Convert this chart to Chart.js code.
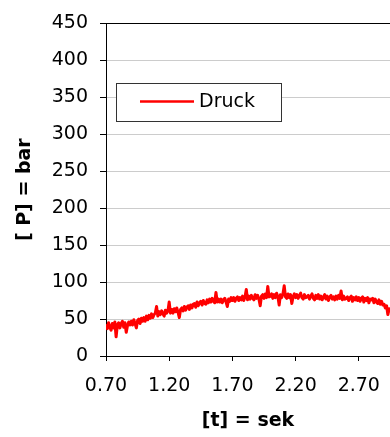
<!DOCTYPE html>
<html lang="de">
<head>
    <meta charset="UTF-8">
    <title>Druck</title>
    <script src="https://cdn.jsdelivr.net/npm/chart.js"></script>
    <style>
        body { margin: 0; background: #fff; }
        canvas { display: block; }
    </style>
</head>
<body>
    <canvas id="druckChart" width="390" height="437"></canvas>

    <script>
        // Messreihe: Druck in bar, alle 10 ms ab t = 0.70 s
        const tStart = 0.70;
        const tStep = 0.01;
        const druck = [
            43, 37, 45, 39, 35, 44, 38, 46, 26, 42,
            45, 38, 44, 47, 39, 45, 32, 41, 46, 42,
            47, 42, 49, 44, 38, 48, 50, 44, 51, 47,
            52, 47, 54, 49, 55, 51, 57, 52, 56, 58,
            67, 54, 60, 56, 61, 57, 54, 62, 58, 61,
            73, 58, 63, 58, 64, 60, 65, 59, 52, 63,
            65, 61, 67, 62, 66, 68, 63, 69, 65, 70,
            71, 66, 73, 68, 72, 74, 69, 75, 71, 70,
            76, 72, 77, 73, 78, 74, 72, 86, 73, 77,
            73, 77, 72, 76, 78, 73, 67, 77, 74, 79,
            75, 79, 74, 78, 80, 75, 79, 76, 81, 75,
            80, 90, 76, 81, 77, 82, 78, 76, 83, 78,
            82, 77, 68, 81, 83, 78, 84, 79, 94, 80,
            81, 84, 78, 83, 79, 85, 80, 69, 83, 79,
            84, 95, 80, 78, 84, 79, 83, 71, 80, 84,
            79, 83, 78, 82, 85, 79, 77, 83, 79, 80,
            82, 77, 81, 84, 78, 76, 82, 78, 83, 77,
            81, 76, 80, 83, 77, 81, 75, 80, 82, 77,
            80, 76, 81, 77, 82, 78, 88, 76, 81, 77,
            78, 80, 75, 79, 81, 74, 79, 76, 80, 75,
            79, 74, 78, 80, 73, 78, 75, 79, 72, 77,
            76, 78, 72, 77, 73, 71, 76, 70, 74, 69,
            70, 65, 68, 56, 64, 59
        ];
        const xTicks = [0.70, 1.20, 1.70, 2.20, 2.70];
        const xMin = 0.70;
        const xMax = 2.947;
        const yMin = 0;
        const yMax = 450;

        const points = druck.map((p, i) => ({ x: tStart + i * tStep, y: p }));

        Chart.defaults.font.family = '"DejaVu Sans", sans-serif';
        Chart.defaults.color = '#000';

        // Legende als Kasten im Diagramm
        const boxLegend = {
            id: 'boxLegend',
            afterDatasetsDraw(chart) {
                const ctx = chart.ctx;
                const ds = chart.data.datasets[0];
                ctx.save();
                ctx.fillStyle = '#fff';
                ctx.fillRect(116, 83, 165, 38);
                ctx.strokeStyle = '#333';
                ctx.lineWidth = 1;
                ctx.strokeRect(116.5, 83.5, 165, 38);
                ctx.strokeStyle = ds.borderColor;
                ctx.lineWidth = 2.5;
                ctx.beginPath();
                ctx.moveTo(140, 101.5);
                ctx.lineTo(194, 101.5);
                ctx.stroke();
                ctx.fillStyle = '#000';
                ctx.font = '19px "DejaVu Sans"';
                ctx.textBaseline = 'middle';
                ctx.fillText(ds.label, 199, 102);
                ctx.restore();
            }
        };

        new Chart(document.getElementById('druckChart'), {
            type: 'line',
            data: {
                datasets: [{
                    label: 'Druck',
                    data: points,
                    borderColor: '#ff0000',
                    borderWidth: 3,
                    borderJoinStyle: 'round',
                    pointRadius: 0,
                    tension: 0,
                    fill: false
                }]
            },
            options: {
                responsive: false,
                animation: false,
                devicePixelRatio: 1,
                layout: { padding: { top: 20, right: 0, bottom: 0, left: 0 } },
                plugins: {
                    legend: { display: false },
                    tooltip: { enabled: false }
                },
                scales: {
                    x: {
                        type: 'linear',
                        min: xMin,
                        max: xMax,
                        afterBuildTicks: scale => {
                            scale.ticks = xTicks.map(v => ({ value: v }));
                        },
                        afterFit: scale => {
                            scale.height = 81;
                            scale.paddingLeft = 0;
                            scale.paddingRight = 0;
                        },
                        grid: {
                            drawOnChartArea: false,
                            tickLength: 5,
                            color: '#000'
                        },
                        border: { color: '#000', width: 1 },
                        ticks: {
                            font: { size: 19 },
                            padding: 14,
                            maxRotation: 0,
                            callback: v => Number(v).toFixed(2)
                        },
                        title: {
                            display: true,
                            text: '[t] = sek',
                            font: { size: 19, weight: 'bold' },
                            padding: { top: 5, bottom: 5 }
                        }
                    },
                    y: {
                        min: yMin,
                        max: yMax,
                        afterFit: scale => { scale.width = 106; },
                        grid: {
                            color: c => c.tick && c.tick.value === yMax ? '#000' : '#cccccc',
                            tickColor: c => c.tick && c.tick.value % 50 === 0 ? '#000' : 'rgba(0,0,0,0)',
                            tickLength: 6
                        },
                        border: { color: '#000', width: 1 },
                        ticks: {
                            stepSize: 25,
                            font: { size: 19 },
                            padding: 12,
                            callback: v => (v % 50 === 0 ? String(v) : '')
                        },
                        title: {
                            display: true,
                            text: '[ P] = bar',
                            font: { size: 19, weight: 'bold' },
                            padding: { top: 14, bottom: 14 }
                        }
                    }
                }
            },
            plugins: [boxLegend]
        });
    </script>
</body>
</html>
